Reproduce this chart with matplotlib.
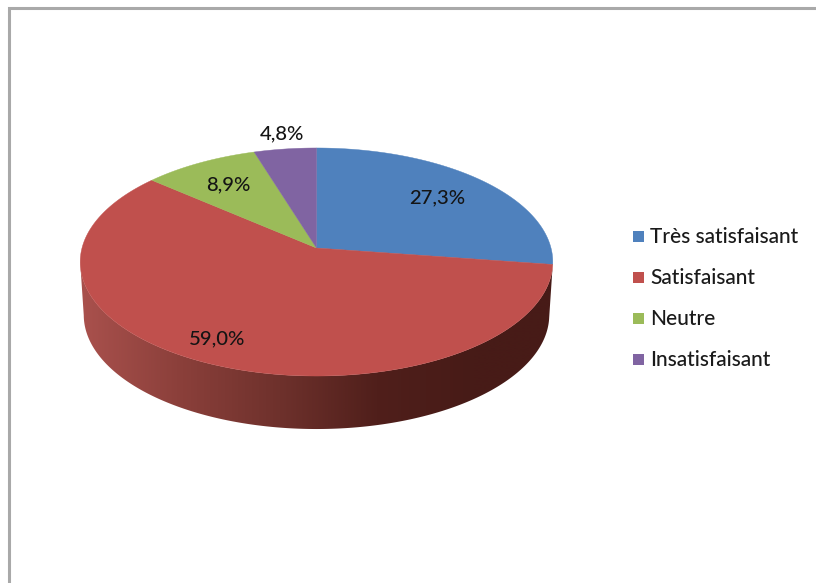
"""Perspective 3D pie of satisfaction shares, drawn on a pixel-sized axes."""
import matplotlib

matplotlib.use("Agg")
import matplotlib.pyplot as plt
import numpy as np
from matplotlib.colors import LinearSegmentedColormap
from matplotlib.patches import Polygon

labels = ["Très satisfaisant", "Satisfaisant", "Neutre", "Insatisfaisant"]
shares = [27.3, 59.0, 8.9, 4.8]
share_texts = ["27,3%", "59,0%", "8,9%", "4,8%"]
colors = ["#4f81bd", "#c0504d", "#9bbb59", "#8064a2"]

# pie geometry in pixels: apex, half-width, vertical scale, perspective
CX, CY = 316.5, 248.0
RX, RY, PERSP = 234.5, 112.3, 0.1228
DEPTH = 53.0
BASE_SCALE = 0.985
LABEL_POS = [(437, 198), (217, 339), (228, 185), (282, 134)]
LEGEND_Y = [237, 278, 319, 360]

side_cmap = LinearSegmentedColormap.from_list(
    "side", ["#a8504c", "#8a3f3a", "#6e312c", "#501f1b", "#471b17"])


def rim(theta, scale=1.0, dy=0.0):
    """Theta runs clockwise from 12 o'clock, in radians."""
    x, y = np.sin(theta), np.cos(theta)
    w = 1 + PERSP * y
    return CX + scale * RX * x / w, CY + dy - RY * y / w


def main():
    fig = plt.figure(figsize=(8.16, 5.83), dpi=100)
    ax = fig.add_axes([0, 0, 1, 1])
    plt.rcParams["font.family"] = "Lato"

    # window frame, only top and left show
    ax.plot([9, 9, 816], [583, 8, 8], color="#a9a9a9", lw=2.2,
            solid_joinstyle="miter", zorder=1)

    edges = np.cumsum([0] + shares) / 100 * 2 * np.pi

    # side wall of the big red slice, stops at the left silhouette
    t = np.linspace(edges[1], edges[2], 400)
    t = t[:np.argmin(rim(t)[0]) + 1]
    x0, y0 = rim(t)
    x1, y1 = rim(t, BASE_SCALE, DEPTH)
    wall = Polygon(np.c_[np.r_[x0, x1[::-1]], np.r_[y0, y1[::-1]]],
                   closed=True, fc="none", ec="none", transform=ax.transData)
    ax.add_patch(wall)
    grad_x = np.linspace(75, 560, 486)
    grad = ax.imshow(np.clip((grad_x - 85) / 390, 0, 1)[None, :], cmap=side_cmap,
                     aspect="auto", extent=(75, 560, 440, 240), zorder=2,
                     interpolation="bilinear")
    grad.set_clip_path(wall)

    # top faces
    for i, col in enumerate(colors):
        t = np.linspace(edges[i], edges[i + 1], 200)
        xs, ys = rim(t)
        ax.fill(np.r_[CX, xs], np.r_[CY, ys], color=col, lw=0.3, zorder=3)

    for txt, (x, y) in zip(share_texts, LABEL_POS):
        ax.text(x, y, txt, ha="center", va="center", fontsize=14.6,
                fontweight="medium", color="#141414", zorder=4)

    for lab, col, y in zip(labels, colors, LEGEND_Y):
        ax.fill([633, 644, 644, 633], [y - 6.5, y - 6.5, y + 4.5, y + 4.5],
                color=col, lw=0, zorder=4)
        ax.text(650, y, lab, ha="left", va="center", fontsize=15,
                fontweight="medium", color="#1a1a1a", zorder=4)

    ax.set_xlim(0, 816)
    ax.set_ylim(583, 0)
    ax.set_aspect("auto")
    ax.set_axis_off()
    fig.savefig("out.png", dpi=100)


if __name__ == "__main__":
    main()
